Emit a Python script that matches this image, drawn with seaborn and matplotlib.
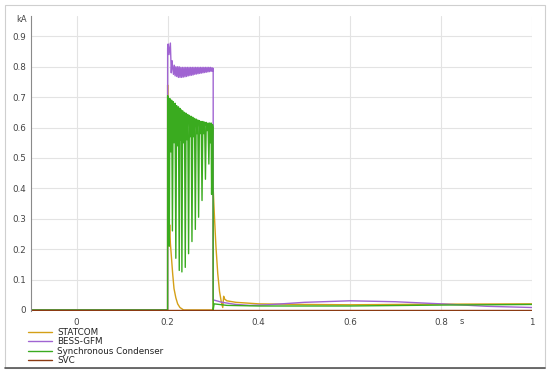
import numpy as np
import pandas as pd
import matplotlib
matplotlib.use("Agg")
import matplotlib.pyplot as plt
from matplotlib.patches import Rectangle
import seaborn as sns

# ==============================================================================
# DATOS (tiempo en s, corriente en kA)
# ==============================================================================
SERIES = ["STATCOM", "BESS-GFM", "Synchronous Condenser", "SVC"]
COLORES = ["#d4a017", "#a064d2", "#3aab1f", "#8b3a12"]

statcom_t = [-0.1, 0.1999, 0.2, 0.2015, 0.203, 0.2045, 0.206, 0.208, 0.211, 0.214,
             0.218, 0.222, 0.227, 0.235, 0.2999, 0.3, 0.303, 0.306, 0.31, 0.314,
             0.318, 0.321, 0.323, 0.325, 0.33, 0.35, 0.4, 0.5, 0.6, 0.8, 1.0]
statcom_v = [0.0, 0.0, 0.74, 0.30, 0.21, 0.28, 0.22, 0.18, 0.12, 0.07,
             0.04, 0.02, 0.008, 0.0, 0.0, 0.40, 0.30, 0.21, 0.12, 0.06,
             0.025, 0.008, 0.045, 0.036, 0.03, 0.025, 0.02, 0.018, 0.017, 0.019, 0.02]

bess_t = [-0.1, 0.1999, 0.2, 0.2012, 0.203, 0.206, 0.208, 0.2095, 0.211,
          0.2128, 0.2146, 0.2164, 0.2182, 0.22, 0.2218, 0.2236, 0.2254, 0.2272, 0.229,
          0.2308, 0.2326, 0.2344, 0.2362, 0.238, 0.2398, 0.2416, 0.2434, 0.2452, 0.247,
          0.2488, 0.2506, 0.2524, 0.2542, 0.256, 0.2578, 0.2596, 0.2614, 0.2632, 0.265,
          0.2668, 0.2686, 0.2704, 0.2722, 0.274, 0.2758, 0.2776, 0.2794, 0.2812, 0.283,
          0.2848, 0.2866, 0.2884, 0.2902, 0.292, 0.2938, 0.2956, 0.2974, 0.2992, 0.3,
          0.3001, 0.32, 0.35, 0.38, 0.42, 0.5, 0.6, 0.7, 0.8, 0.9, 1.0]
bess_v = [0.0, 0.0, 0.86, 0.875, 0.84, 0.878, 0.78, 0.82, 0.80,
          0.775, 0.805, 0.77, 0.80, 0.768, 0.80, 0.765, 0.80, 0.765, 0.798,
          0.765, 0.798, 0.766, 0.798, 0.767, 0.798, 0.768, 0.798, 0.77, 0.798,
          0.771, 0.798, 0.772, 0.798, 0.773, 0.798, 0.775, 0.798, 0.776, 0.798,
          0.777, 0.798, 0.778, 0.798, 0.779, 0.798, 0.78, 0.798, 0.781, 0.798,
          0.782, 0.798, 0.783, 0.798, 0.784, 0.798, 0.785, 0.797, 0.786, 0.795,
          0.033, 0.025, 0.018, 0.015, 0.017, 0.025, 0.03, 0.027, 0.02, 0.012, 0.008]

sync_t = [-0.1, 0.1999, 0.2, 0.202, 0.2035, 0.205, 0.207, 0.2088, 0.2105, 0.2122,
          0.2142, 0.2162, 0.218, 0.2198, 0.2217, 0.2237, 0.2255, 0.227, 0.2285, 0.2298,
          0.2313, 0.233, 0.235, 0.237, 0.2387, 0.2405, 0.2423, 0.2442, 0.246, 0.2478,
          0.2497, 0.2516, 0.2534, 0.2552, 0.2571, 0.259, 0.2608, 0.2626, 0.2644, 0.2662,
          0.268, 0.2698, 0.2717, 0.2737, 0.2755, 0.2773, 0.2792, 0.2812, 0.283, 0.2848,
          0.2867, 0.2887, 0.2905, 0.2922, 0.294, 0.2955, 0.2965, 0.2985, 0.2998, 0.3,
          0.302, 0.33, 0.4, 0.6, 0.8, 1.0]
sync_v = [0.0, 0.0, 0.705, 0.695, 0.21, 0.695, 0.52, 0.69, 0.26, 0.685,
          0.55, 0.68, 0.17, 0.672, 0.54, 0.668, 0.13, 0.663, 0.56, 0.658,
          0.125, 0.655, 0.55, 0.65, 0.14, 0.647, 0.56, 0.643, 0.185, 0.64,
          0.57, 0.637, 0.225, 0.634, 0.57, 0.63, 0.265, 0.628, 0.58, 0.625,
          0.305, 0.623, 0.58, 0.62, 0.36, 0.62, 0.58, 0.618, 0.43, 0.617,
          0.59, 0.615, 0.48, 0.615, 0.55, 0.615, 0.38, 0.61, 0.60, 0.0,
          0.02, 0.015, 0.013, 0.013, 0.016, 0.018]

svc_t = [-0.1, 0.2, 0.3, 0.6, 1.0]
svc_v = [0.0, 0.0, 0.0, 0.0, 0.0]

X_TICKS = [0, 0.2, 0.4, 0.6, 0.8, 1]
X_LABELS = ["0", "0.2", "0.4", "0.6", "0.8", "1"]
Y_TICKS = [0, 0.1, 0.2, 0.3, 0.4, 0.5, 0.6, 0.7, 0.8, 0.9]
Y_LABELS = ["0", "0.1", "0.2", "0.3", "0.4", "0.5", "0.6", "0.7", "0.8", "0.9"]

# Tabla larga para seaborn
tiempos = [statcom_t, bess_t, sync_t, svc_t]
valores = [statcom_v, bess_v, sync_v, svc_v]
df = pd.concat([
    pd.DataFrame({"t": t, "kA": v, "serie": nombre})
    for nombre, t, v in zip(SERIES, tiempos, valores)
], ignore_index=True)

# ==============================================================================
# GRAFICO
# ==============================================================================
sns.set_style("white")
plt.rcParams["font.family"] = ["DejaVu Sans"]

fig = plt.figure(figsize=(5.5, 3.74), dpi=100)
ax = fig.add_axes([31 / 550, 1 - 311 / 374, 501 / 550, 295 / 374])

sns.lineplot(data=df, x="t", y="kA", hue="serie", hue_order=SERIES,
             palette=COLORES, estimator=None, sort=False, linewidth=1.0,
             ax=ax, legend=False)

ax.set_xlim(-0.1, 1.0)
ax.set_ylim(-0.0035, 0.967)
ax.set_xticks(X_TICKS)
ax.set_xticklabels(X_LABELS)
ax.set_yticks(Y_TICKS)
ax.set_yticklabels(Y_LABELS)
ax.set_yticks(np.arange(0, 0.96, 0.02), minor=True)
ax.grid(True, which="major", color="#e3e3e3", linewidth=0.8)
ax.set_axisbelow(True)
ax.tick_params(axis="both", which="major", labelsize=6.3, colors="#444444", length=0)
ax.tick_params(axis="x", which="major", pad=5)
ax.tick_params(axis="y", which="major", pad=3.5)
ax.tick_params(axis="y", which="minor", length=2, color="#bbbbbb", direction="out")
ax.set_xlabel("")
ax.set_ylabel("")
for lado in ["top", "right", "bottom"]:
    ax.spines[lado].set_visible(False)
ax.spines["left"].set_color("#8a8a8a")
ax.spines["left"].set_linewidth(0.8)

# Unidades
fig.text(22 / 550, 1 - 20 / 374, "kA", fontsize=6, color="#444444", ha="center", va="center")
fig.text(462 / 550, 1 - 321 / 374, "s", fontsize=6, color="#444444", ha="center", va="center")

# Leyenda debajo del grafico
handles = [plt.Line2D([], [], color=c, linewidth=1.0) for c in COLORES]
fig.legend(handles, SERIES, loc="upper left", bbox_to_anchor=(24 / 550, 1 - 323.5 / 374),
           frameon=False, fontsize=6.3, handlelength=2.7, handletextpad=0.6,
           labelspacing=0.05, borderpad=0.0, labelcolor="#222222")

# Marco exterior
fig.add_artist(Rectangle((5 / 550, 1 - 368 / 374), 540 / 550, 363 / 374,
                         transform=fig.transFigure, fill=False,
                         edgecolor="#cfcfcf", linewidth=0.8))
fig.add_artist(plt.Line2D([5 / 550, 545 / 550], [1 - 368 / 374, 1 - 368 / 374],
                          transform=fig.transFigure, color="#555555", linewidth=1.2))

fig.savefig("out.png", dpi=100)
plt.close(fig)
